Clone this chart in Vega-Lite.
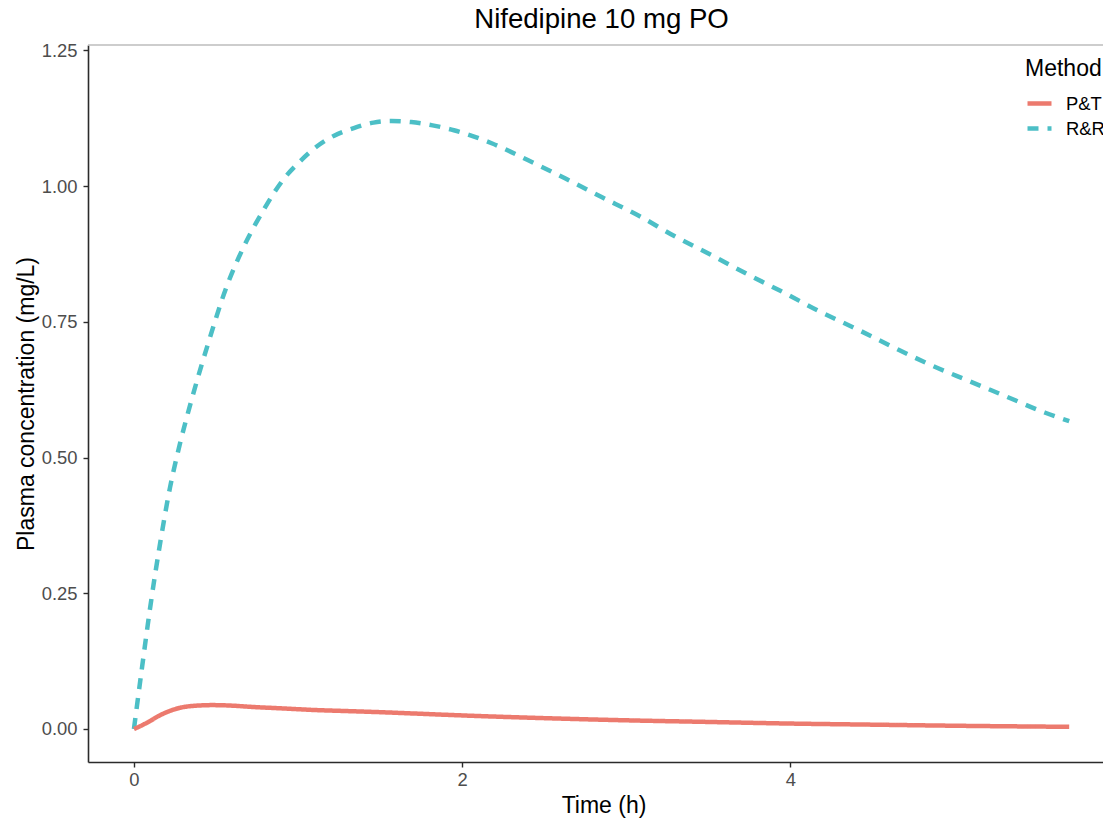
{
  "$schema": "https://vega.github.io/schema/vega-lite/v6.json",
  "autosize": "none",
  "padding": {"left": 88, "top": 45, "right": 0, "bottom": 57},
  "width": 1015,
  "height": 717,
  "background": "white",
  "config": {
    "view": {"stroke": null},
    "font": "Liberation Sans"
  },
  "title": {
    "text": "Nifedipine 10 mg PO",
    "font": "Liberation Sans",
    "fontSize": 27.6,
    "fontWeight": "normal",
    "color": "#000000",
    "anchor": "middle",
    "frame": "group",
    "baseline": "alphabetic",
    "offset": 13,
    "dx": 6,
    "dy": 27
  },
  "datasets": {
    "curves": [
      {"time": 0, "conc": 0, "Method": "R&R"},
      {"time": 0.05, "conc": 0.115, "Method": "R&R"},
      {"time": 0.1, "conc": 0.226, "Method": "R&R"},
      {"time": 0.16, "conc": 0.343, "Method": "R&R"},
      {"time": 0.22, "conc": 0.445, "Method": "R&R"},
      {"time": 0.28, "conc": 0.525, "Method": "R&R"},
      {"time": 0.35, "conc": 0.605, "Method": "R&R"},
      {"time": 0.45, "conc": 0.708, "Method": "R&R"},
      {"time": 0.565, "conc": 0.815, "Method": "R&R"},
      {"time": 0.667, "conc": 0.887, "Method": "R&R"},
      {"time": 0.79, "conc": 0.956, "Method": "R&R"},
      {"time": 0.91, "conc": 1.012, "Method": "R&R"},
      {"time": 1.01, "conc": 1.045, "Method": "R&R"},
      {"time": 1.11, "conc": 1.072, "Method": "R&R"},
      {"time": 1.22, "conc": 1.093, "Method": "R&R"},
      {"time": 1.34, "conc": 1.107, "Method": "R&R"},
      {"time": 1.46, "conc": 1.117, "Method": "R&R"},
      {"time": 1.57, "conc": 1.12, "Method": "R&R"},
      {"time": 1.69, "conc": 1.118, "Method": "R&R"},
      {"time": 1.82, "conc": 1.112, "Method": "R&R"},
      {"time": 1.95, "conc": 1.103, "Method": "R&R"},
      {"time": 2.18, "conc": 1.079, "Method": "R&R"},
      {"time": 2.4, "conc": 1.048, "Method": "R&R"},
      {"time": 2.63, "conc": 1.014, "Method": "R&R"},
      {"time": 2.85, "conc": 0.98, "Method": "R&R"},
      {"time": 3.08, "conc": 0.945, "Method": "R&R"},
      {"time": 3.3, "conc": 0.907, "Method": "R&R"},
      {"time": 3.52, "conc": 0.873, "Method": "R&R"},
      {"time": 3.75, "conc": 0.836, "Method": "R&R"},
      {"time": 3.96, "conc": 0.804, "Method": "R&R"},
      {"time": 4.18, "conc": 0.769, "Method": "R&R"},
      {"time": 4.41, "conc": 0.736, "Method": "R&R"},
      {"time": 4.63, "conc": 0.703, "Method": "R&R"},
      {"time": 4.86, "conc": 0.67, "Method": "R&R"},
      {"time": 5.09, "conc": 0.641, "Method": "R&R"},
      {"time": 5.32, "conc": 0.612, "Method": "R&R"},
      {"time": 5.55, "conc": 0.583, "Method": "R&R"},
      {"time": 5.7, "conc": 0.567, "Method": "R&R"},
      {"time": 0, "conc": 0, "Method": "P&T"},
      {"time": 0.05, "conc": 0.007, "Method": "P&T"},
      {"time": 0.1, "conc": 0.015, "Method": "P&T"},
      {"time": 0.15, "conc": 0.024, "Method": "P&T"},
      {"time": 0.2, "conc": 0.031, "Method": "P&T"},
      {"time": 0.28, "conc": 0.039, "Method": "P&T"},
      {"time": 0.38, "conc": 0.043, "Method": "P&T"},
      {"time": 0.48, "conc": 0.044, "Method": "P&T"},
      {"time": 0.6, "conc": 0.043, "Method": "P&T"},
      {"time": 0.7, "conc": 0.041, "Method": "P&T"},
      {"time": 0.9, "conc": 0.038, "Method": "P&T"},
      {"time": 1.1, "conc": 0.035, "Method": "P&T"},
      {"time": 1.3, "conc": 0.033, "Method": "P&T"},
      {"time": 1.5, "conc": 0.031, "Method": "P&T"},
      {"time": 1.75, "conc": 0.028, "Method": "P&T"},
      {"time": 2.0, "conc": 0.025, "Method": "P&T"},
      {"time": 2.5, "conc": 0.02, "Method": "P&T"},
      {"time": 3.0, "conc": 0.016, "Method": "P&T"},
      {"time": 3.5, "conc": 0.013, "Method": "P&T"},
      {"time": 4.0, "conc": 0.01, "Method": "P&T"},
      {"time": 4.5, "conc": 0.008, "Method": "P&T"},
      {"time": 5.0, "conc": 0.006, "Method": "P&T"},
      {"time": 5.7, "conc": 0.004, "Method": "P&T"}
    ]
  },
  "layer": [
    {
      "data": {"name": "curves"},
      "mark": {"type": "line", "strokeWidth": 4.5, "interpolate": "monotone", "strokeCap": "butt"},
      "encoding": {
        "x": {
          "field": "time",
          "type": "quantitative",
          "scale": {"domain": [-0.28, 5.906], "nice": false, "zero": false},
          "axis": {
            "title": "Time (h)",
            "values": [0, 2, 4],
            "format": "d",
            "grid": false,
            "domainColor": "#2b2b2b",
            "domainWidth": 1.6,
            "tickColor": "#2b2b2b",
            "tickWidth": 1.4,
            "tickSize": 5,
            "labelPadding": 3,
            "labelFont": "Liberation Sans",
            "labelFontSize": 18.4,
            "labelColor": "#4D4D4D",
            "titleFont": "Liberation Sans",
            "titleFontSize": 23,
            "titleFontWeight": "normal",
            "titleColor": "#000000",
            "titleX": 515.5,
            "titleY": 50,
            "titleBaseline": "alphabetic",
            "titleAlign": "center"
          }
        },
        "y": {
          "field": "conc",
          "type": "quantitative",
          "scale": {"domain": [-0.0608, 1.26], "nice": false, "zero": false},
          "axis": {
            "title": "Plasma concentration (mg/L)",
            "values": [0, 0.25, 0.5, 0.75, 1.0, 1.25],
            "format": ".2f",
            "grid": false,
            "domainColor": "#2b2b2b",
            "domainWidth": 1.6,
            "tickColor": "#2b2b2b",
            "tickWidth": 1.4,
            "tickSize": 5,
            "labelPadding": 6,
            "labelFont": "Liberation Sans",
            "labelFontSize": 18.4,
            "labelColor": "#4D4D4D",
            "titleFont": "Liberation Sans",
            "titleFontSize": 23,
            "titleFontWeight": "normal",
            "titleColor": "#000000",
            "titleAngle": -90,
            "titleX": -55,
            "titleY": 358.5,
            "titleBaseline": "alphabetic",
            "titleAlign": "center"
          }
        },
        "color": {
          "field": "Method",
          "type": "nominal",
          "scale": {"domain": ["P&T", "R&R"], "range": ["#EC7A6E", "#4CBFC6"]},
          "legend": {
            "orient": "none",
            "legendX": 937,
            "legendY": 13,
            "title": "Method",
            "titleFont": "Liberation Sans",
            "titleFontSize": 23,
            "titleFontWeight": "normal",
            "titleColor": "#000000",
            "titlePadding": 8,
            "labelFont": "Liberation Sans",
            "labelFontSize": 18.4,
            "labelColor": "#000000",
            "labelOffset": 12,
            "symbolType": "stroke",
            "symbolSize": 576,
            "symbolStrokeWidth": 4.5,
            "rowPadding": 1
          }
        },
        "strokeDash": {
          "field": "Method",
          "type": "nominal",
          "scale": {"domain": ["P&T", "R&R"], "range": [[1, 0], [11, 9]]},
          "legend": {
            "orient": "none",
            "legendX": 937,
            "legendY": 13,
            "title": "Method"
          }
        }
      }
    },
    {
      "data": {"values": [{"top": 1.26}]},
      "mark": {"type": "rule", "color": "#BDBDBD", "strokeWidth": 1.5},
      "encoding": {
        "y": {"field": "top", "type": "quantitative"}
      }
    }
  ]
}
